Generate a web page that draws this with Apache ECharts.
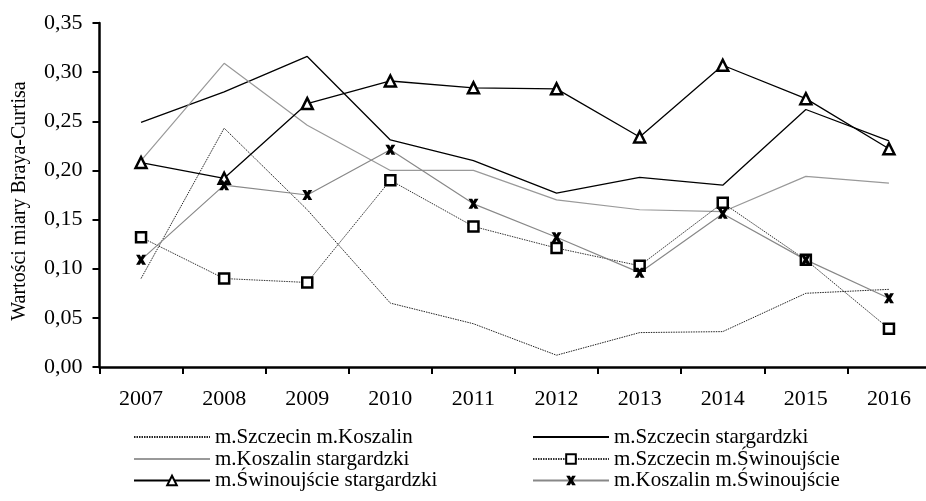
<!DOCTYPE html>
<html>
<head>
<meta charset="utf-8">
<script src="https://cdn.jsdelivr.net/npm/echarts@6/dist/echarts.min.js"></script>
<style>html,body{margin:0;padding:0;background:#fff;}#c{width:926px;height:501px;}</style>
</head>
<body>
<div id="c"></div>
<script>
const years = ['2007','2008','2009','2010','2011','2012','2013','2014','2015','2016'];
const yTicks = [0, 0.05, 0.10, 0.15, 0.20, 0.25, 0.30, 0.35];
const szczecinKoszalin = [0.090, 0.243, 0.160, 0.065, 0.044, 0.012, 0.035, 0.036, 0.075, 0.079];
const szczecinStargardzki = [0.249, 0.280, 0.316, 0.231, 0.210, 0.177, 0.193, 0.185, 0.262, 0.230];
const koszalinStargardzki = [0.210, 0.309, 0.246, 0.200, 0.200, 0.170, 0.160, 0.158, 0.194, 0.187];
const szczecinSwinoujscie = [0.132, 0.090, 0.086, 0.190, 0.143, 0.121, 0.103, 0.167, 0.109, 0.039];
const swinoujscieStargardzki = [0.208, 0.192, 0.268, 0.291, 0.284, 0.283, 0.234, 0.307, 0.273, 0.222];
const koszalinSwinoujscie = [0.109, 0.185, 0.175, 0.221, 0.166, 0.132, 0.096, 0.156, 0.109, 0.070];
const names = ['m.Szczecin m.Koszalin','m.Szczecin stargardzki','m.Koszalin stargardzki','m.Szczecin m.Świnoujście','m.Świnoujście stargardzki','m.Koszalin m.Świnoujście'];

const xPath = 'path://M0,0 L3.8,0 L5,2.2 L6.2,0 L10,0 L7,5 L10,10 L6.2,10 L5,7.8 L3.8,10 L0,10 L3,5 Z';
const font = 'Liberation Serif, Times New Roman, serif';

// legend slots: [name index, left, top, hide symbol]
const legendSlots = [
  [0, 133, 426.5, true], [2, 133, 448.5, true], [4, 133, 470, false],
  [1, 532, 426.5, true], [3, 532, 448.5, false], [5, 532, 470, false]
];
const legends = legendSlots.map(s => ({
  orient: 'horizontal', left: s[1], top: s[2], itemWidth: 76, itemHeight: 12, padding: 0,
  selectedMode: false,
  textStyle: {fontFamily: font, fontSize: 21, color: '#000', lineHeight: 21},
  data: [s[3] ? {name: names[s[0]], itemStyle: {opacity: 0}} : {name: names[s[0]]}]
}));

const chart = echarts.init(document.getElementById('c'), null, {renderer:'canvas'});
chart.setOption({
  animation: false,
  backgroundColor: '#fff',
  grid: {left: 99.5, width: 831, top: 23, height: 344, outerBoundsMode: 'none', containLabel: false},
  legend: legends,
  xAxis: {
    type: 'category', data: years, boundaryGap: true,
    axisLine: {lineStyle: {color: '#000', width: 2.5}},
    axisTick: {show: true, length: 7, inside: false, lineStyle: {color: '#000', width: 2}},
    axisLabel: {fontFamily: font, fontSize: 22, color: '#000', margin: 21}
  },
  yAxis: {
    type: 'value', min: 0, max: 0.35, interval: 0.05,
    name: 'Wartości miary Braya-Curtisa', nameLocation: 'middle', nameGap: 70,
    nameTextStyle: {fontFamily: font, fontSize: 20, color: '#000', padding: [0, 12, 0, 0]},
    axisLine: {show: true, lineStyle: {color: '#000', width: 2.5}},
    axisTick: {show: true, length: 7, lineStyle: {color: '#000', width: 2}},
    splitLine: {show: false},
    axisLabel: {fontFamily: font, fontSize: 22, color: '#000', margin: 17,
      formatter: v => v.toFixed(2).replace('.', ',')}
  },
  series: [
    {name: names[0], type: 'line', data: szczecinKoszalin, symbol: 'none',
     lineStyle: {color: '#222', width: 1, type: [1.5, 1]}, itemStyle: {color: '#222'}},
    {name: names[1], type: 'line', data: szczecinStargardzki, symbol: 'none',
     lineStyle: {color: '#000', width: 1.3}, itemStyle: {color: '#000'}},
    {name: names[2], type: 'line', data: koszalinStargardzki, symbol: 'none',
     lineStyle: {color: '#999', width: 1.2}, itemStyle: {color: '#999'}},
    {name: names[3], type: 'line', data: szczecinSwinoujscie, symbol: 'rect', symbolSize: 10,
     lineStyle: {color: '#333', width: 1, type: [1.5, 1]},
     itemStyle: {color: '#fff', borderColor: '#000', borderWidth: 2.5}},
    {name: names[4], type: 'line', data: swinoujscieStargardzki, symbol: 'triangle', symbolSize: 11,
     lineStyle: {color: '#000', width: 1.3},
     itemStyle: {color: '#fff', borderColor: '#000', borderWidth: 2.5}},
    {name: names[5], type: 'line', data: koszalinSwinoujscie, symbol: xPath, symbolSize: 10,
     lineStyle: {color: '#888', width: 1.2},
     itemStyle: {color: '#000', borderColor: '#000', borderWidth: 0}}
  ]
});
</script>
</body>
</html>
